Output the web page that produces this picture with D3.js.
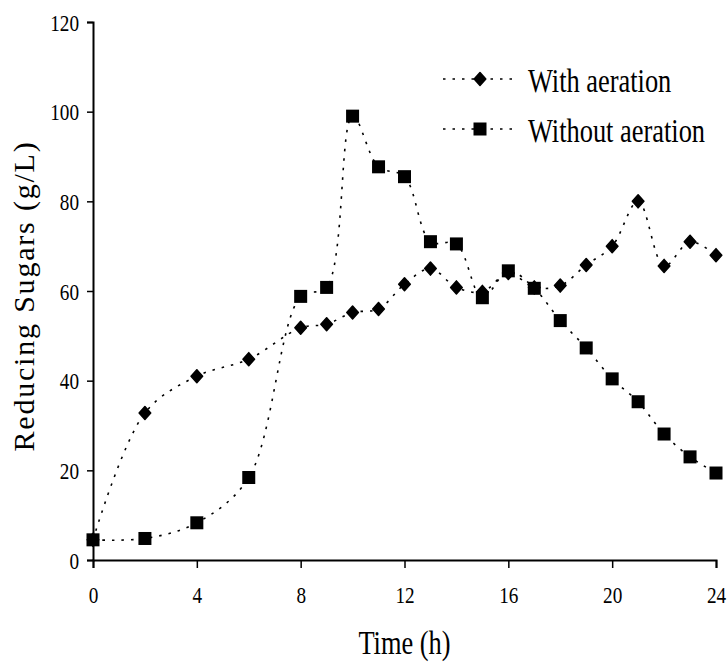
<!DOCTYPE html>
<html>
<head>
<meta charset="utf-8">
<script src="https://cdn.jsdelivr.net/npm/d3@7"></script>
<style>
  body { margin: 0; background: #fff; }
  text { font-family: "Liberation Serif", "Times New Roman", serif; fill: #000; }
</style>
</head>
<body>
<div id="chart"></div>
<script>
// Time points (h)
const hours = [0, 2, 4, 6, 8, 9, 10, 11, 12, 13, 14, 15, 16, 17, 18, 19, 20, 21, 22, 23, 24];

// Reducing sugars (g/L)
const withAeration = [4.5, 32.8, 41, 44.8, 51.8, 52.6, 55.2, 56, 61.5, 65, 60.8, 59.8, 64, 60.8, 61.2, 65.8, 70, 80, 65.6, 71, 68];
const withoutAeration = [4.5, 4.8, 8.3, 18.4, 58.8, 60.8, 99, 87.7, 85.5, 71, 70.5, 58.5, 64.5, 60.6, 53.4, 47.3, 40.4, 35.3, 28.1, 23, 19.4];

const xTicks = [0, 4, 8, 12, 16, 20, 24];
const yTicks = [0, 20, 40, 60, 80, 100, 120];

const seriesNames = ["With aeration", "Without aeration"];

function chart() {
    const width = 728;
    const height = 664;
    const margin = {top: 22, right: 12, bottom: 104, left: 93};
    // the original text is squeezed sideways a bit
    const squeeze = 0.8;

    const x = d3.scaleLinear().domain([0, 24]).range([margin.left, width - margin.right]);
    const y = d3.scaleLinear().domain([0, 120]).range([height - margin.bottom, margin.top]);

    const svg = d3.create("svg")
        .attr("width", width)
        .attr("height", height)
        .attr("viewBox", [0, 0, width, height]);

    const series = [
        {name: seriesNames[0], values: withAeration, shape: "diamond"},
        {name: seriesNames[1], values: withoutAeration, shape: "square"}
    ];

    const line = d3.line()
        .x((d, i) => x(hours[i]))
        .y(d => y(d))
        .curve(d3.curveCatmullRom.alpha(0.5));

    // smoothed dotted lines
    svg.append("g")
        .selectAll("path")
        .data(series)
        .join("path")
        .attr("fill", "none")
        .attr("stroke", "#000")
        .attr("stroke-width", 1.6)
        .attr("stroke-dasharray", "2.5,7")
        .attr("d", d => line(d.values));

    function marker(g, shape) {
        if (shape === "square") {
            g.append("rect")
                .attr("x", -6.5).attr("y", -6.5)
                .attr("width", 13).attr("height", 13)
                .attr("fill", "#000");
        } else {
            g.append("path")
                .attr("d", "M0,-6.5L5.8,0L0,6.5L-5.8,0Z")
                .attr("fill", "#000")
                .attr("stroke", "#000")
                .attr("stroke-width", 1.5)
                .attr("stroke-linejoin", "round");
        }
    }

    // markers (squares drawn last, on top)
    series.forEach(s => {
        const g = svg.append("g");
        s.values.forEach((v, i) => {
            const m = g.append("g").attr("transform", `translate(${x(hours[i])},${y(v)})`);
            marker(m, s.shape);
        });
    });

    // axes
    const xAxis = svg.append("g")
        .attr("transform", `translate(0,${y(0)})`)
        .call(d3.axisBottom(x).tickValues(xTicks).tickSize(8));
    const yAxis = svg.append("g")
        .attr("transform", `translate(${x(0)},0)`)
        .call(d3.axisLeft(y).tickValues(yTicks).tickSize(6));

    [xAxis, yAxis].forEach(a => {
        a.select(".domain").attr("stroke", "#000").attr("stroke-width", 2);
        a.selectAll(".tick line").attr("stroke", "#000").attr("stroke-width", 1.5);
        a.selectAll(".tick text")
            .attr("fill", "#000")
            .attr("dy", null)
            .attr("transform", `scale(${squeeze},1)`)
            .style("font-family", '"Liberation Serif", serif')
            .style("font-size", "24px");
    });
    xAxis.selectAll(".tick text").attr("y", 43);
    yAxis.selectAll(".tick text").attr("x", -14 / squeeze).attr("y", 8);

    // axis titles
    svg.append("text")
        .attr("transform", `translate(${x(12)},654) scale(${squeeze},1)`)
        .attr("text-anchor", "middle")
        .style("font-size", "33px")
        .text("Time (h)");

    svg.append("text")
        .attr("transform", `translate(34,296) rotate(-90)`)
        .attr("text-anchor", "middle")
        .style("font-size", "30px")
        .style("letter-spacing", "1.8px")
        .text("Reducing Sugars (g/L)");

    // legend
    const legend = svg.append("g")
        .selectAll("g")
        .data(series)
        .join("g")
        .attr("transform", (d, i) => `translate(443,${79 + i * 50})`);

    legend.append("line")
        .attr("x1", 0).attr("x2", 76)
        .attr("stroke", "#000")
        .attr("stroke-width", 1.6)
        .attr("stroke-dasharray", "2.5,7");

    legend.each(function (d) {
        const m = d3.select(this).append("g").attr("transform", "translate(37,0)");
        marker(m, d.shape);
    });

    legend.append("text")
        .attr("transform", `translate(85,13) scale(${squeeze},1)`)
        .style("font-size", "33px")
        .text(d => d.name);

    return svg.node();
}

document.getElementById("chart").appendChild(chart());
</script>
</body>
</html>
